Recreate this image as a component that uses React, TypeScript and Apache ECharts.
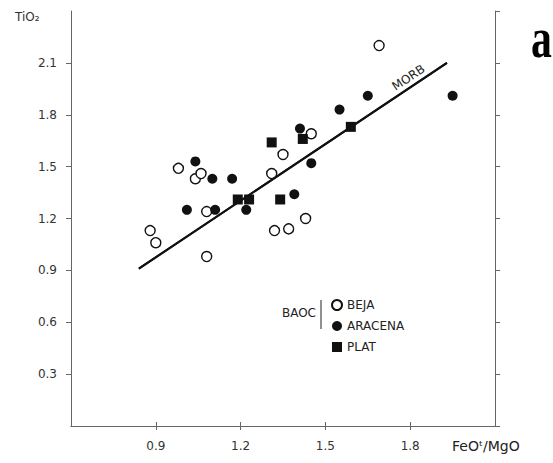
import React, { useEffect, useRef } from "react";
import * as echarts from "echarts";

// Data (FeO^t/MgO vs TiO2)
const bejaPoints: number[][] = [
  [1.69, 2.2], [0.88, 1.13], [0.9, 1.06], [0.98, 1.49], [1.04, 1.43], [1.06, 1.46],
  [1.08, 1.24], [1.08, 0.98], [1.31, 1.46], [1.35, 1.57], [1.45, 1.69], [1.32, 1.13],
  [1.37, 1.14], [1.43, 1.2],
];
const aracenaPoints: number[][] = [
  [1.04, 1.53], [1.1, 1.43], [1.17, 1.43], [1.01, 1.25], [1.11, 1.25], [1.22, 1.25],
  [1.39, 1.34], [1.41, 1.72], [1.45, 1.52], [1.55, 1.83], [1.65, 1.91], [1.95, 1.91],
];
const platPoints: number[][] = [
  [1.19, 1.31], [1.23, 1.31], [1.31, 1.64], [1.34, 1.31], [1.42, 1.66], [1.59, 1.73],
];
const morbLine: number[][] = [[0.84, 0.91], [1.93, 2.1]];

const seriesNames = ["BEJA", "ARACENA", "PLAT"];
const xTicks = { min: 0.6, max: 2.1, interval: 0.3 };
const yTicks = { min: 0, max: 2.4, interval: 0.3 };

const FONT = "DejaVu Sans";
const INK = "#111";
const AXIS = "#666";

export default function App() {
  const ref = useRef<HTMLDivElement>(null);
  useEffect(() => {
    if (!ref.current) return;
    const chart = echarts.init(ref.current, null, { renderer: "svg" });
    const fmt = (v: number) => v.toFixed(1);
    const option: any = {
      animation: false,
      backgroundColor: "#fff",
      textStyle: { fontFamily: FONT },
      grid: { left: 71, right: 58, top: 11, bottom: 37 },
      xAxis: [
        {
          type: "value", position: "bottom", ...xTicks,
          axisLine: { show: true, lineStyle: { color: AXIS, width: 1 } },
          axisTick: { show: true, inside: false, length: 4, lineStyle: { color: AXIS } },
          axisLabel: { show: true, showMinLabel: false, showMaxLabel: false, formatter: fmt, margin: 14, fontSize: 12, color: "#333", fontFamily: FONT },
          splitLine: { show: false },
        },
        {
          type: "value", position: "top", ...xTicks,
          axisLine: { show: true, lineStyle: { color: AXIS, width: 1 } },
          axisTick: { show: true, inside: false, length: 4, lineStyle: { color: AXIS } },
          axisLabel: { show: false },
          splitLine: { show: false },
        },
      ],
      yAxis: [
        {
          type: "value", position: "left", ...yTicks,
          axisLine: { show: true, lineStyle: { color: AXIS, width: 1 } },
          axisTick: { show: true, inside: false, length: 5, lineStyle: { color: AXIS } },
          axisLabel: { show: true, showMinLabel: false, showMaxLabel: false, formatter: fmt, margin: 14, fontSize: 12, color: "#333", fontFamily: FONT },
          splitLine: { show: false },
        },
        {
          type: "value", position: "right", ...yTicks,
          axisLine: { show: true, lineStyle: { color: AXIS, width: 1 } },
          axisTick: { show: true, inside: false, length: 5, lineStyle: { color: AXIS } },
          axisLabel: { show: false },
          splitLine: { show: false },
        },
      ],
      legend: {
        data: seriesNames,
        orient: "vertical",
        left: 326,
        top: 294,
        itemWidth: 10,
        itemHeight: 10,
        itemGap: 9,
        textStyle: { fontFamily: FONT, fontSize: 12, color: "#222" },
      },
      series: [
        {
          name: "MORB",
          type: "line",
          data: morbLine,
          symbol: "none",
          z: 1,
          lineStyle: { color: INK, width: 2 },
          markLine: {
            silent: true,
            symbol: "none",
            lineStyle: { color: INK, width: 2, type: "solid" },
            label: {
              show: true,
              formatter: "MORB",
              position: "insideEndTop",
              distance: [22, 3],
              fontFamily: FONT,
              fontSize: 12,
              color: "#222",
            },
            data: [[{ coord: morbLine[0] }, { coord: morbLine[1] }]],
          },
        },
        {
          name: "BEJA",
          type: "scatter",
          data: bejaPoints,
          symbol: "circle",
          symbolSize: 10,
          z: 3,
          itemStyle: { color: "#fff", borderColor: INK, borderWidth: 1.4, opacity: 1 },
        },
        {
          name: "ARACENA",
          type: "scatter",
          data: aracenaPoints,
          symbol: "circle",
          symbolSize: 10,
          z: 3,
          itemStyle: { color: INK, opacity: 1 },
        },
        {
          name: "PLAT",
          type: "scatter",
          data: platPoints,
          symbol: "rect",
          symbolSize: 10,
          z: 3,
          itemStyle: { color: INK, opacity: 1 },
        },
      ],
      graphic: [
        {
          type: "text",
          left: 15,
          top: 11,
          style: { text: "TiO₂", fontFamily: FONT, fontSize: 12, fill: "#333" },
        },
        {
          type: "text",
          left: 452,
          top: 439,
          style: { text: "FeOᵗ/MgO", fontFamily: FONT, fontSize: 14, fill: "#222" },
        },
        {
          type: "text",
          x: 531,
          y: 8,
          scaleX: 0.72,
          style: { text: "a", fontFamily: "Liberation Serif", fontWeight: "bold", fontSize: 58, fill: "#000" },
        },
        {
          type: "text",
          right: 553 - 316,
          top: 307,
          style: { text: "BAOC", fontFamily: FONT, fontSize: 12, fill: "#222" },
        },
        {
          type: "line",
          shape: { x1: 321, y1: 300, x2: 321, y2: 329 },
          style: { stroke: "#222", lineWidth: 1 },
        },
      ],
    };
    chart.setOption(option);
    return () => chart.dispose();
  }, []);
  return (
    <div
      ref={ref}
      style={{ position: "fixed", left: 0, top: 0, width: 553, height: 463, background: "#fff" }}
    />
  );
}
